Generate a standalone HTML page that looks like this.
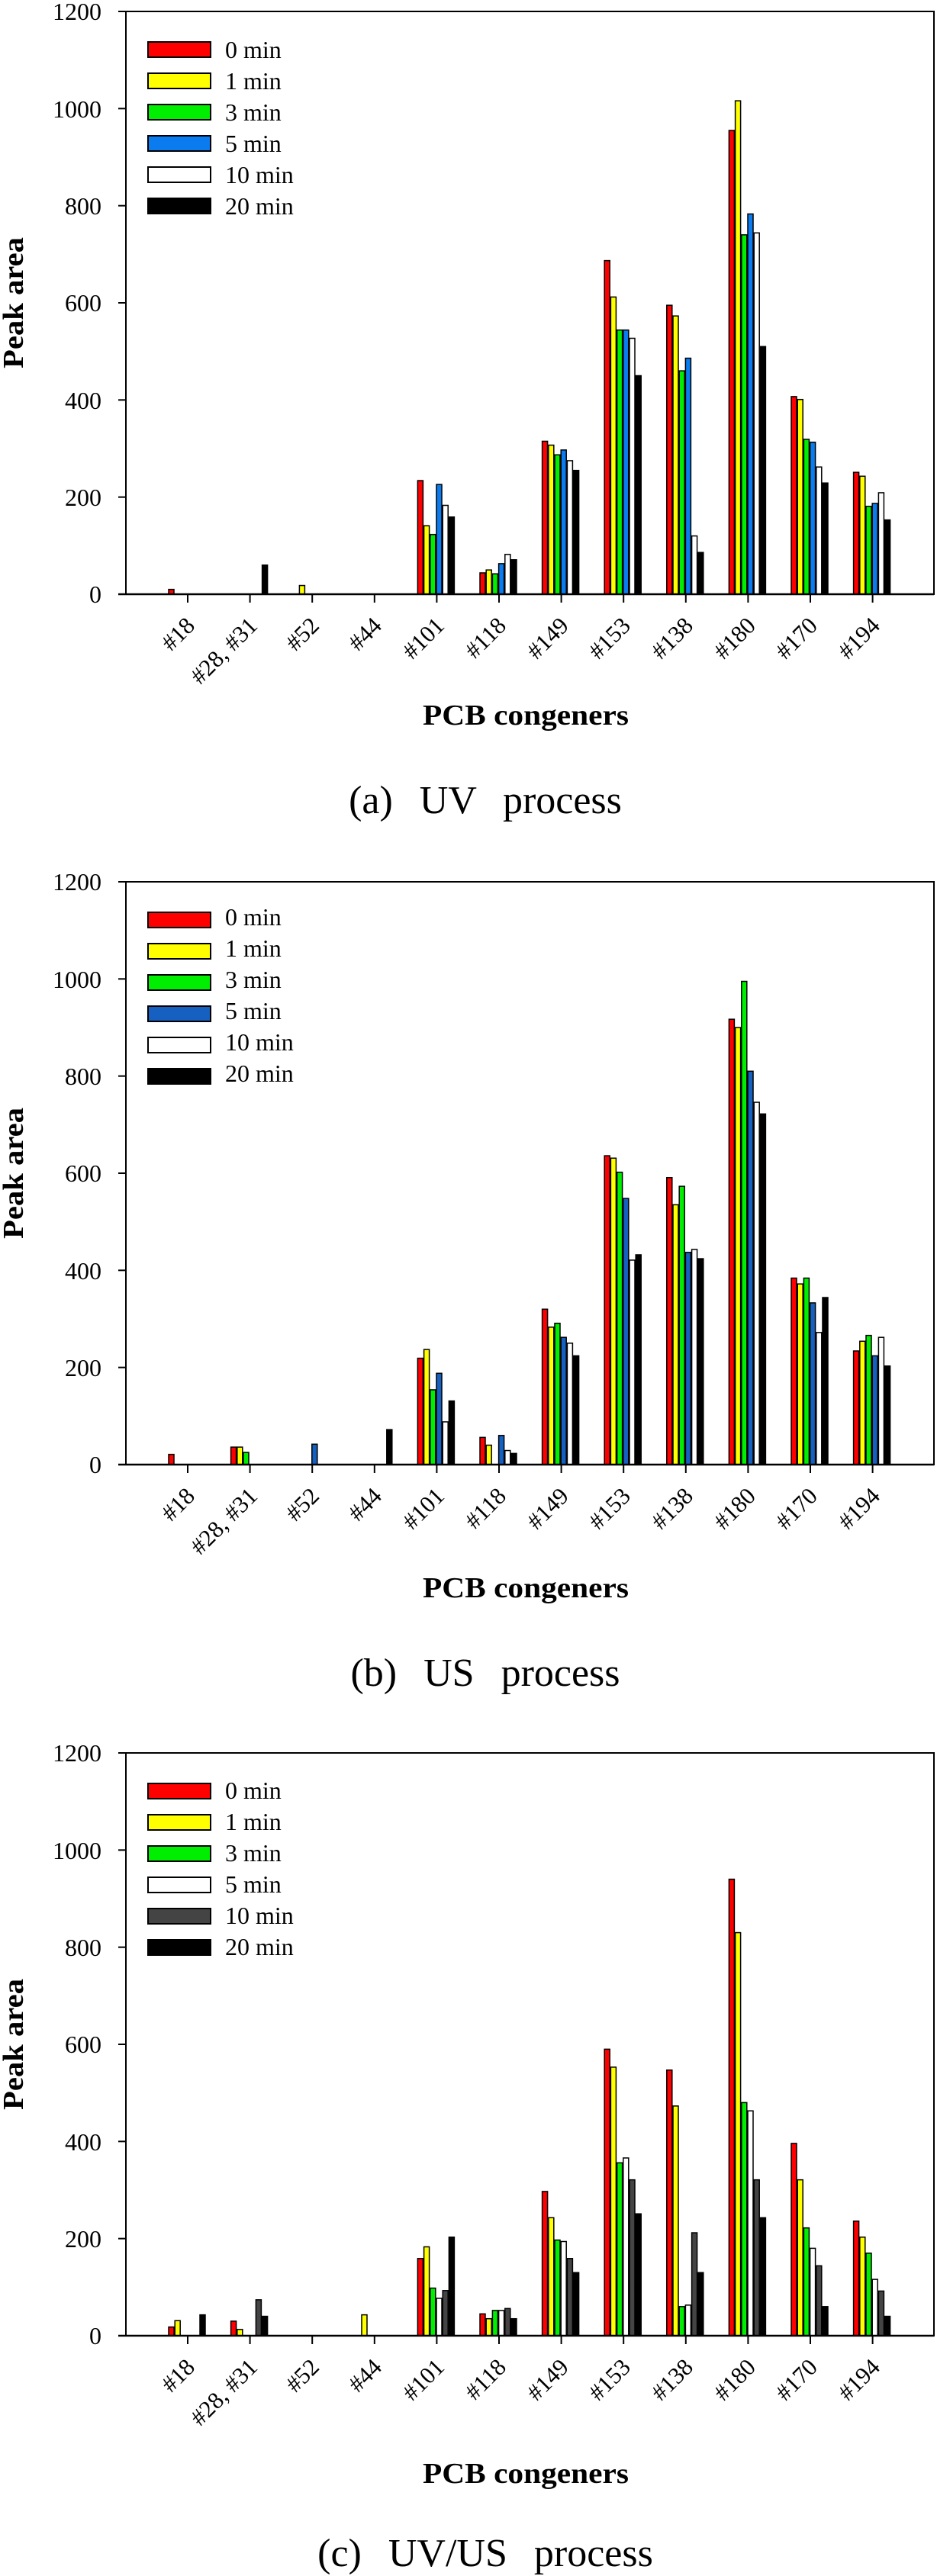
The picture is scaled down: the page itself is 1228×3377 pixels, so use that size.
<!DOCTYPE html>
<html><head><meta charset="utf-8"><style>
html,body{margin:0;padding:0;background:#fff;}
svg{display:block;}
text{font-family:"Liberation Serif",serif;fill:#000;}
.tk{font-size:32px;}
.lg{font-size:32px;}
.xl{font-size:31px;}
.ax{font-size:38px;font-weight:bold;}
.cap{font-size:52px;word-spacing:22px;}
</style></head><body>
<svg id="s" width="1228" height="3377" viewBox="0 0 1228 3377" xmlns="http://www.w3.org/2000/svg">
<rect width="1228" height="3377" fill="#fff"/>
<g id="g"></g>
<g class="tk" text-anchor="end">
<text x="133" y="790">0</text><text x="133" y="663">200</text><text x="133" y="536">400</text><text x="133" y="408">600</text><text x="133" y="281">800</text><text x="133" y="154">1000</text><text x="133" y="26">1200</text>
</g>
<g class="lg"><text x="295" y="76">0 min</text><text x="295" y="117">1 min</text><text x="295" y="158">3 min</text><text x="295" y="199">5 min</text><text x="295" y="240">10 min</text><text x="295" y="281">20 min</text></g>
<text class="ax" x="689" y="950" text-anchor="middle" textLength="270" lengthAdjust="spacingAndGlyphs">PCB congeners</text>
<text class="ax" transform="translate(30,397) rotate(-90)" text-anchor="middle" textLength="172" lengthAdjust="spacingAndGlyphs">Peak area</text>
<text class="cap" x="636" y="1066" text-anchor="middle">(a) UV process</text>
<g class="tk" text-anchor="end">
<text x="133" y="1931">0</text><text x="133" y="1804">200</text><text x="133" y="1677">400</text><text x="133" y="1549">600</text><text x="133" y="1422">800</text><text x="133" y="1295">1000</text><text x="133" y="1167">1200</text>
</g>
<g class="lg"><text x="295" y="1213">0 min</text><text x="295" y="1254">1 min</text><text x="295" y="1295">3 min</text><text x="295" y="1336">5 min</text><text x="295" y="1377">10 min</text><text x="295" y="1418">20 min</text></g>
<text class="ax" x="689" y="2094" text-anchor="middle" textLength="270" lengthAdjust="spacingAndGlyphs">PCB congeners</text>
<text class="ax" transform="translate(30,1538) rotate(-90)" text-anchor="middle" textLength="172" lengthAdjust="spacingAndGlyphs">Peak area</text>
<text class="cap" x="636" y="2210" text-anchor="middle">(b) US process</text>
<g class="tk" text-anchor="end">
<text x="133" y="3073">0</text><text x="133" y="2946">200</text><text x="133" y="2819">400</text><text x="133" y="2691">600</text><text x="133" y="2564">800</text><text x="133" y="2437">1000</text><text x="133" y="2309">1200</text>
</g>
<g class="lg"><text x="295" y="2358">0 min</text><text x="295" y="2399">1 min</text><text x="295" y="2440">3 min</text><text x="295" y="2481">5 min</text><text x="295" y="2522">10 min</text><text x="295" y="2563">20 min</text></g>
<text class="ax" x="689" y="3255" text-anchor="middle" textLength="270" lengthAdjust="spacingAndGlyphs">PCB congeners</text>
<text class="ax" transform="translate(30,2680) rotate(-90)" text-anchor="middle" textLength="172" lengthAdjust="spacingAndGlyphs">Peak area</text>
<text class="cap" x="636" y="3364" text-anchor="middle">(c) UV/US process</text>
<g class="xl" text-anchor="end">
<text transform="translate(257,822) rotate(-45)">#18</text>
<text transform="translate(339,822) rotate(-45)">#28, #31</text>
<text transform="translate(420,822) rotate(-45)">#52</text>
<text transform="translate(502,822) rotate(-45)">#44</text>
<text transform="translate(584,822) rotate(-45)">#101</text>
<text transform="translate(665,822) rotate(-45)">#118</text>
<text transform="translate(747,822) rotate(-45)">#149</text>
<text transform="translate(828,822) rotate(-45)">#153</text>
<text transform="translate(910,822) rotate(-45)">#138</text>
<text transform="translate(992,822) rotate(-45)">#180</text>
<text transform="translate(1073,822) rotate(-45)">#170</text>
<text transform="translate(1155,822) rotate(-45)">#194</text>
</g>
<g class="xl" text-anchor="end">
<text transform="translate(257,1963) rotate(-45)">#18</text>
<text transform="translate(339,1963) rotate(-45)">#28, #31</text>
<text transform="translate(420,1963) rotate(-45)">#52</text>
<text transform="translate(502,1963) rotate(-45)">#44</text>
<text transform="translate(584,1963) rotate(-45)">#101</text>
<text transform="translate(665,1963) rotate(-45)">#118</text>
<text transform="translate(747,1963) rotate(-45)">#149</text>
<text transform="translate(828,1963) rotate(-45)">#153</text>
<text transform="translate(910,1963) rotate(-45)">#138</text>
<text transform="translate(992,1963) rotate(-45)">#180</text>
<text transform="translate(1073,1963) rotate(-45)">#170</text>
<text transform="translate(1155,1963) rotate(-45)">#194</text>
</g>
<g class="xl" text-anchor="end">
<text transform="translate(257,3105) rotate(-45)">#18</text>
<text transform="translate(339,3105) rotate(-45)">#28, #31</text>
<text transform="translate(420,3105) rotate(-45)">#52</text>
<text transform="translate(502,3105) rotate(-45)">#44</text>
<text transform="translate(584,3105) rotate(-45)">#101</text>
<text transform="translate(665,3105) rotate(-45)">#118</text>
<text transform="translate(747,3105) rotate(-45)">#149</text>
<text transform="translate(828,3105) rotate(-45)">#153</text>
<text transform="translate(910,3105) rotate(-45)">#138</text>
<text transform="translate(992,3105) rotate(-45)">#180</text>
<text transform="translate(1073,3105) rotate(-45)">#170</text>
<text transform="translate(1155,3105) rotate(-45)">#194</text>
</g>
</svg>
<script>
(function(){
var NS="http://www.w3.org/2000/svg",g=document.getElementById("g");
function el(n,a){var e=document.createElementNS(NS,n);for(var k in a)e.setAttribute(k,a[k]);g.appendChild(e);return e;}
var plots=[
 {top:15,bot:779,cols:["#ff0000","#ffff00","#00ee00","#0a7cf0","#ffffff","#000000"],
  d:[[10,0,0,0,0,0],[0,0,0,0,0,60],[0,18,0,0,0,0],[0,0,0,0,0,0],
     [234,141,123,226,183,159],[44,50,42,63,82,71],[315,307,287,297,275,255],
     [687,612,544,544,527,450],[595,573,460,486,120,86],[955,1016,740,783,744,510],
     [407,401,319,313,262,229],[251,243,181,187,209,153]]},
 {top:1156,bot:1920,cols:["#ff0000","#ffff00","#00ee00","#1560c0","#ffffff","#000000"],
  d:[[21,0,0,0,0,0],[36,36,25,0,0,0],[0,0,0,42,0,0],[0,0,0,0,0,72],
     [219,237,154,188,88,131],[56,40,0,60,29,23],[320,283,291,262,250,224],
     [636,631,602,548,421,432],[591,535,573,437,443,424],[917,900,995,810,746,722],
     [384,372,384,333,272,344],[234,254,266,224,262,203]]},
 {top:2298,bot:3062,cols:["#ff0000","#ffff00","#00ee00","#ffffff","#444444","#000000"],
  d:[[18,31,0,0,0,43],[30,13,0,0,74,40],[0,0,0,0,0,0],[0,43,0,0,0,0],
     [159,183,98,77,93,203],[45,35,52,52,56,35],[297,243,197,194,159,130],
     [590,553,356,366,321,251],[547,473,60,63,212,130],[940,830,480,463,321,243],
     [396,321,222,180,144,60],[236,203,170,116,92,40]]}
];
plots.forEach(function(p){
 var sc=(p.bot-p.top)/1200;
 for(var i=0;i<6;i++){var cy=p.top+50+41*i;
  el("rect",{x:194,y:cy-10,width:82,height:20,fill:p.cols[i],stroke:"#000","stroke-width":2});}
 for(var k=0;k<12;k++){var cx=246+81.6*k;
  for(var i=0;i<6;i++){var v=p.d[k][i];if(!v)continue;var h=v*sc;
   el("rect",{x:cx-25+8.2*i,y:p.bot-h,width:7,height:h,fill:p.cols[i],stroke:"#000","stroke-width":1.5});}
  el("line",{x1:cx,y1:p.bot,x2:cx,y2:p.bot+11,stroke:"#000","stroke-width":2});
 }
 el("rect",{x:165,y:p.top,width:1059,height:p.bot-p.top,fill:"none",stroke:"#000","stroke-width":2});
 el("line",{x1:155,y1:p.bot,x2:1224,y2:p.bot,stroke:"#000","stroke-width":2.5});
 for(var t=0;t<=6;t++){var y=p.bot-t*200*sc;
  el("line",{x1:155,y1:y,x2:165,y2:y,stroke:"#000","stroke-width":2});}
});
})();
</script>
</body></html>
